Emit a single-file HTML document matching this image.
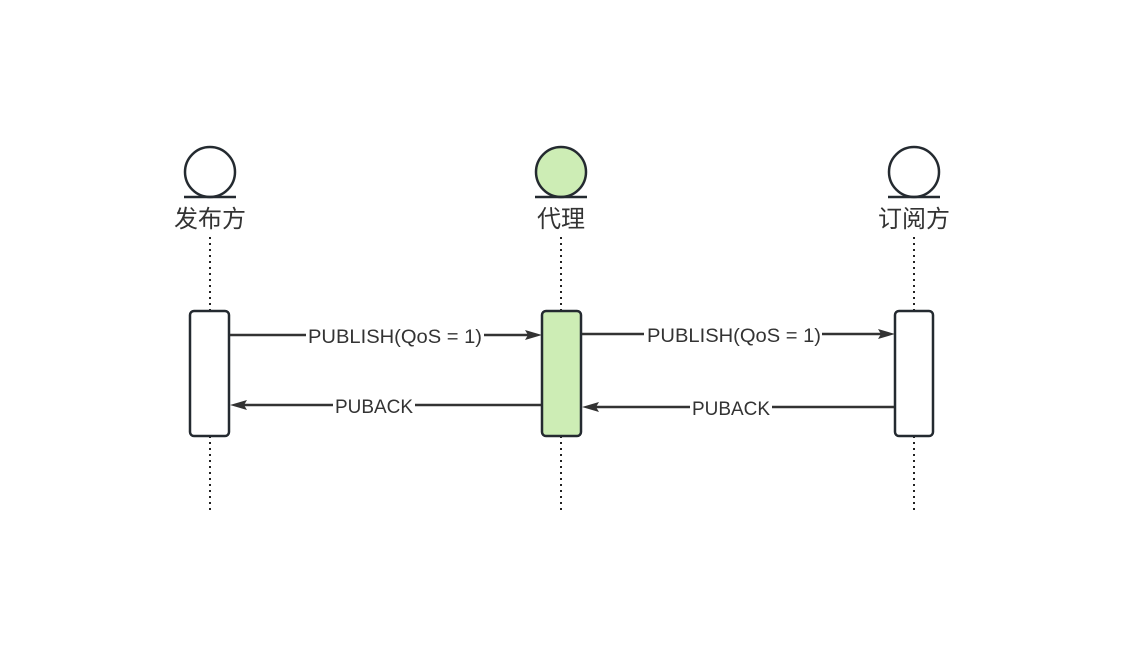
<!DOCTYPE html>
<html><head><meta charset="utf-8"><style>body{margin:0;background:#fff}</style></head><body>
<svg width="1135" height="650" xmlns="http://www.w3.org/2000/svg" font-family="Liberation Sans, Noto Sans CJK SC, sans-serif">
<g stroke="#222" stroke-width="2" stroke-dasharray="2,4" fill="none">
<line x1="210" y1="237" x2="210" y2="310"/><line x1="210" y1="436" x2="210" y2="510"/>
<line x1="561" y1="237" x2="561" y2="310"/><line x1="561" y1="436" x2="561" y2="510"/>
<line x1="914" y1="237" x2="914" y2="310"/><line x1="914" y1="436" x2="914" y2="510"/>
</g>
<g stroke="#242a30" stroke-width="2.5">
<circle cx="210" cy="172" r="25" fill="#fff"/><line x1="184" y1="197" x2="236" y2="197"/>
<circle cx="561" cy="172" r="25" fill="#cdedb5"/><line x1="535" y1="197" x2="587" y2="197"/>
<circle cx="914" cy="172" r="25" fill="#fff"/><line x1="888" y1="197" x2="940" y2="197"/>
<rect x="190" y="311" width="39" height="125" rx="4" fill="#fff"/>
<rect x="542" y="311" width="39" height="125" rx="4" fill="#cdedb5"/>
<rect x="895" y="311" width="38" height="125" rx="4" fill="#fff"/>
</g>
<g fill="#333" font-size="24" text-anchor="middle">
<text x="210" y="227">发布方</text><text x="561" y="227">代理</text><text x="914" y="227">订阅方</text>
</g>
<g stroke="#333" stroke-width="2.5">
<line x1="230" y1="335" x2="530" y2="335"/>
<line x1="582" y1="334" x2="883" y2="334"/>
<line x1="541" y1="405" x2="242" y2="405"/>
<line x1="894" y1="407" x2="594" y2="407"/>
</g>
<g fill="#333">
<path d="M542,335 L525,330 L528,335 L525,340 Z"/>
<path d="M895,334 L878,329 L881,334 L878,339 Z"/>
<path d="M230,405 L247,400 L244,405 L247,410 Z"/>
<path d="M582,407 L599,402 L596,407 L599,412 Z"/>
</g>
<g font-size="19" fill="#333">
<rect x="306" y="324" width="178" height="22" fill="#fff"/><text x="308" y="343" textLength="174" lengthAdjust="spacingAndGlyphs">PUBLISH(QoS = 1)</text>
<rect x="644" y="323" width="178" height="22" fill="#fff"/><text x="647" y="342" textLength="174" lengthAdjust="spacingAndGlyphs">PUBLISH(QoS = 1)</text>
<rect x="333" y="394" width="82" height="22" fill="#fff"/><text x="335" y="413" textLength="78" lengthAdjust="spacingAndGlyphs">PUBACK</text>
<rect x="690" y="396" width="82" height="22" fill="#fff"/><text x="692" y="415" textLength="78" lengthAdjust="spacingAndGlyphs">PUBACK</text>
</g>
</svg>
</body></html>
